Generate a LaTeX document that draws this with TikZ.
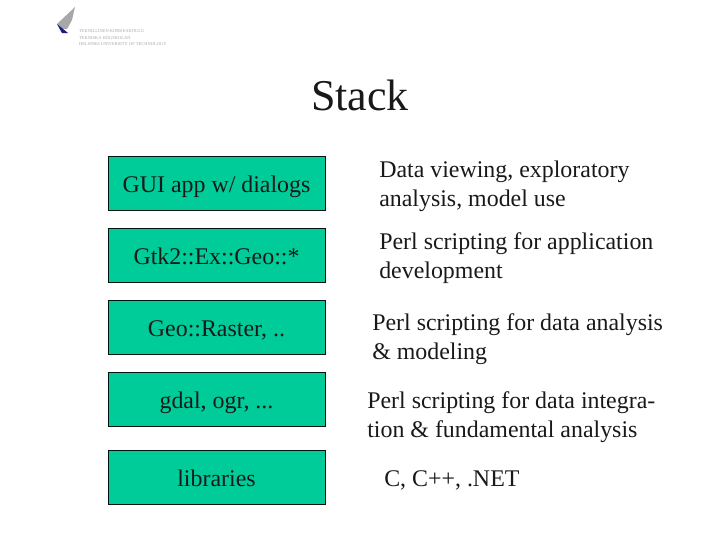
\documentclass[tikz,border=0pt]{standalone}
\usepackage{fontspec}
\setmainfont{Liberation Serif}
\usetikzlibrary{positioning}
\definecolor{vert}{HTML}{00CC99}
\definecolor{encre}{HTML}{00140F}
\definecolor{logobleu}{HTML}{1A1A80}
\definecolor{logogris}{HTML}{A8A8A8}
\begin{document}
\begin{tikzpicture}[
  layer/.style={draw=encre,fill=vert,line width=0.7pt,minimum width=5.425cm,minimum height=1.35cm,inner sep=0pt,text height=0.45cm,text depth=0pt,font=\fontsize{17}{20.4}\selectfont,text=black!90},
  note/.style={anchor=west,align=left,inner sep=0pt,font=\fontsize{17}{20.5}\selectfont,text=black!90},
  logotxt/.style={anchor=west,inner sep=0pt,font=\fontsize{3.2}{4}\selectfont,text=logogris}]
  \useasboundingbox (0,0) rectangle (18,-13.5);
  % Logo
  \fill[logogris] (1.425,-0.6) -- (1.875,-0.175) -- (1.8,-0.5) -- (1.68,-0.72) -- (1.55,-0.72) -- cycle;
  \fill[logobleu] (1.425,-0.6) -- (1.7,-0.825) -- (1.55,-0.825) -- cycle;
  \node[logotxt] (lg1) at (1.97,-0.78) {TEKNILLINEN KORKEAKOULU};
  \node[logotxt] (lg2) at (1.97,-0.94) {TEKNISKA HÖGSKOLAN};
  \node[logotxt] (lg3) at (1.97,-1.09) {HELSINKI UNIVERSITY OF TECHNOLOGY};
  % Titre
  \node[inner sep=0pt,font=\fontsize{31.3}{36}\selectfont,text=black!90] (titre) at (9,-2.38) {Stack};
  % Boites
  \node[layer] (gui) at (5.4125,-4.58) {GUI app w/ dialogs};
  \node[layer] (gtk) at (5.4125,-6.38) {Gtk2::Ex::Geo::*};
  \node[layer] (raster) at (5.4125,-8.18) {Geo::Raster, ..};
  \node[layer] (gdal) at (5.4125,-9.98) {gdal, ogr, ...};
  \node[layer] (libs) at (5.4125,-11.93) {libraries};
  % Textes
  \node[note] (guitxt) at (9.475,-4.65) {Data viewing, exploratory\\analysis, model use};
  \node[note] (gtktxt) at (9.475,-6.45) {Perl scripting for application\\development};
  \node[note] (rastertxt) at (9.3,-8.475) {Perl scripting for data analysis\\\& modeling};
  \node[note] (gdaltxt) at (9.175,-10.43) {Perl scripting for data integra-\\tion \& fundamental analysis};
  \node[note] (libstxt) at (9.6,-12.0) {C, C++, .NET};
\end{tikzpicture}
\end{document}
